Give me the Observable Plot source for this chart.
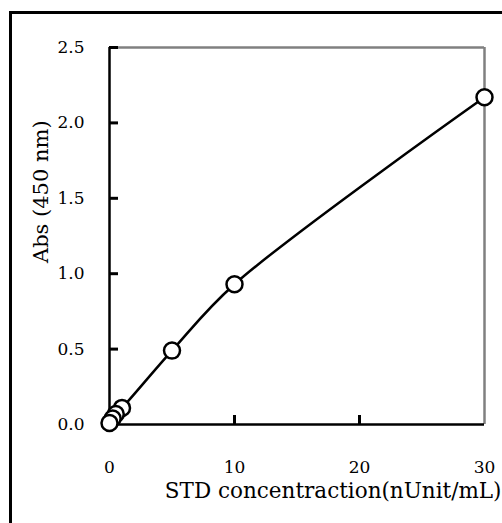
<!DOCTYPE html>
<html>
<head>
<meta charset="utf-8">
<script src="https://cdn.jsdelivr.net/npm/d3@7"></script>
<script src="https://cdn.jsdelivr.net/npm/@observablehq/plot@0.6"></script>
<style>
  html, body { margin: 0; padding: 0; background: #fff; overflow: hidden; }
  #wrap { position: relative; width: 502px; height: 523px; overflow: hidden; }
  #border { position: absolute; left: 9px; top: 11px; width: 700px; height: 700px; border: 3px solid #000; }
  #chart { position: absolute; left: 0; top: 0; }
</style>
</head>
<body>
<div id="wrap"><div id="border"></div><div id="chart"></div></div>
<script>
const concentration = [0, 0.25, 0.5, 1, 5, 10, 30];
const absorbance = [0.01, 0.04, 0.07, 0.11, 0.49, 0.93, 2.17];
const xTicks = [0, 10, 20, 30];
const yTicks = [0, 0.5, 1.0, 1.5, 2.0, 2.5];
const xTitle = "STD concentraction(nUnit/mL)";
const yTitle = "Abs (450 nm)";

const data = concentration.map((c, i) => ({c, a: absorbance[i]}));
const font = "'DejaVu Serif', serif";

const plot = Plot.plot({
  width: 502,
  height: 523,
  marginLeft: 109,
  marginTop: 47,
  marginRight: 18,
  marginBottom: 99,
  style: {fontFamily: font, fontSize: "17px", color: "#000", background: "transparent"},
  x: {domain: [0, 30]},
  y: {domain: [0, 2.5]},
  marks: [
    Plot.ruleY([2.5], {stroke: "#808080", strokeWidth: 2.5}),
    Plot.ruleX([30], {stroke: "#808080", strokeWidth: 2.5}),
    Plot.ruleX([0], {stroke: "#000", strokeWidth: 2.5}),
    Plot.ruleY([0], {stroke: "#000", strokeWidth: 2.5}),
    Plot.tickY(yTicks, {y: d => d, insetRight: 366, stroke: "#000", strokeWidth: 3}),
    Plot.tickX(xTicks.slice(1, 3), {x: d => d, insetTop: 368, stroke: "#000", strokeWidth: 3}),
    Plot.axisY(yTicks, {tickSize: 0, tickPadding: 25, tickFormat: d => d.toFixed(1), label: null, fontSize: 17}),
    Plot.axisX(xTicks, {tickSize: 0, tickPadding: 36, tickFormat: d => String(d), label: null, fontSize: 17}),
    Plot.line(data, {x: "c", y: "a", curve: "catmull-rom", stroke: "#000", strokeWidth: 2.5}),
    Plot.dot(data.slice().reverse(), {x: "c", y: "a", r: 8, fill: "#fff", stroke: "#000", strokeWidth: 2.5}),
    Plot.text([xTitle], {frameAnchor: "bottom-right", text: d => d, textAnchor: "end", dx: 17, dy: 73, fontSize: 21.5}),
    Plot.text([yTitle], {frameAnchor: "left", text: d => d, rotate: -90, dx: -68, dy: 27, fontSize: 21})
  ]
});
document.getElementById("chart").appendChild(plot);
</script>
</body>
</html>
